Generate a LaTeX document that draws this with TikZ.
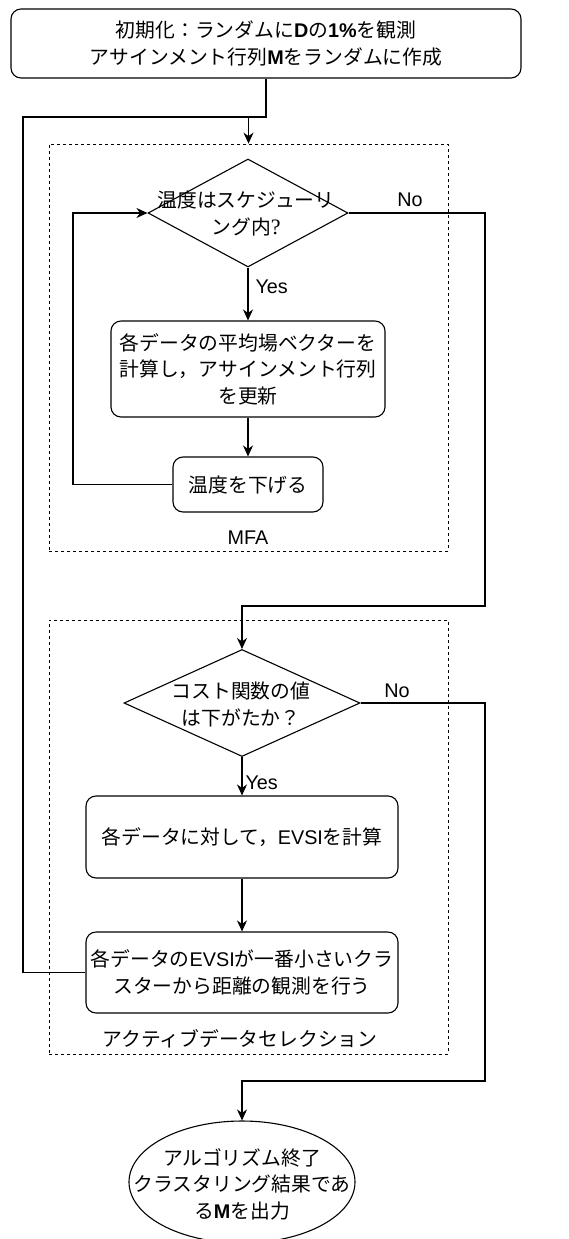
\documentclass[tikz,border=0pt]{standalone}
\usepackage{fontspec}
\setmainfont{Noto Sans CJK JP}
\newfontfamily\lat{Liberation Sans}
\newfontfamily\qser{Liberation Serif}
\usetikzlibrary{arrows.meta,shapes.geometric}
\begin{document}
\begin{tikzpicture}[x=1pt,y=-1pt,
  every node/.style={font=\fontsize{19.8}{26.5}\selectfont},
  box/.style={draw, rounded corners=10pt, line width=1.1pt, align=center, inner sep=0pt},
  grp/.style={draw, dash pattern=on 3pt off 3pt, line width=0.8pt, inner sep=0pt},
  arr/.style={-{Stealth[length=11pt,width=10pt,inset=3.5pt]}, line width=1.1pt},
  ln/.style={line width=1.1pt},
  lbl/.style={font=\lat\fontsize{19.8}{24}\selectfont, inner sep=1pt},
  txt/.style={align=center, inner sep=0pt}
]
\useasboundingbox (0,0) rectangle (568,1239);

% groups
\node[grp, minimum width=399pt, minimum height=407pt] (mfa) at (248.5,347.5) {};
\node[grp, minimum width=399pt, minimum height=434pt] (asel) at (248.5,837) {};
\node[lbl] (mfal) at (248,538) {MFA};
\node[txt] (asell) at (240,1039) {アクティブデータセレクション};

% nodes
\node[box, minimum width=510pt, minimum height=69pt] (init) at (266,43.5)
  {初期化：ランダムに{\lat\bfseries D}の{\lat\bfseries 1\%}を観測\\アサインメント行列{\lat\bfseries M}をランダムに作成};

\node[draw, diamond, line width=1.1pt, minimum width=200pt, minimum height=108pt, inner sep=0pt] (d1) at (248,213) {};
\node[txt] (d1t) at (246,213.5) {温度はスケジューリ\\ング内{\qser\fontsize{22}{26.5}\selectfont ?}};

\node[box, minimum width=274pt, minimum height=96pt] (b2) at (248,369)
  {各データの平均場ベクターを\\計算し，アサインメント行列\\を更新};
\node[box, minimum width=150pt, minimum height=55pt] (b3) at (248,484.5) {温度を下げる};

\node[draw, diamond, line width=1.1pt, minimum width=236pt, minimum height=107pt, inner sep=0pt] (d2) at (242,703) {};
\node[txt] (d2t) at (241,704.5) {コスト関数の値\\は下がたか？};

\node[box, minimum width=312pt, minimum height=82pt] (b4) at (242,837)
  {各データに対して，{\lat EVSI}を計算};
\node[box, minimum width=312pt, minimum height=81pt] (b5) at (242,972.5)
  {各データの{\lat EVSI}が一番小さいクラ\\スターから距離の観測を行う};

\node[draw, ellipse, line width=1.1pt, minimum width=226pt, minimum height=122pt, inner sep=0pt] (endn) at (242,1182) {};
\node[txt] (endt) at (242,1184) {アルゴリズム終了\\クラスタリング結果であ\\る{\lat\bfseries M}を出力};

% labels
\node[lbl] (no1l) at (410,200) {No};
\node[lbl] (no2l) at (397,691) {No};

% connectors
\coordinate (lp2) at (23,117);
\coordinate (lp1) at (73,484.5);
\coordinate (no1) at (485,606);
\coordinate (no2) at (485,1081);

\draw[ln] (init.south) |- (lp2 -| mfa.north);
\draw[arr] (b5.west) -| (lp2) -| (mfa.north);
\draw[arr] (d1.south) -- node[lbl, anchor=west, pos=0.37, xshift=6pt] (yes1) {Yes} (b2.north);
\draw[arr] (b2.south) -- (b3.north);
\draw[arr] (b3.west) -- (lp1) |- (d1.west);
\draw[arr] (d1.east) -| (no1) -| (d2.north);
\draw[arr] (d2.south) -- node[lbl, anchor=west, pos=0.67, xshift=2pt] (yes2) {Yes} (b4.north);
\draw[arr] (b4.south) -- (b5.north);
\draw[arr] (d2.east) -| (no2) -| (endn.north);
\end{tikzpicture}
\end{document}
